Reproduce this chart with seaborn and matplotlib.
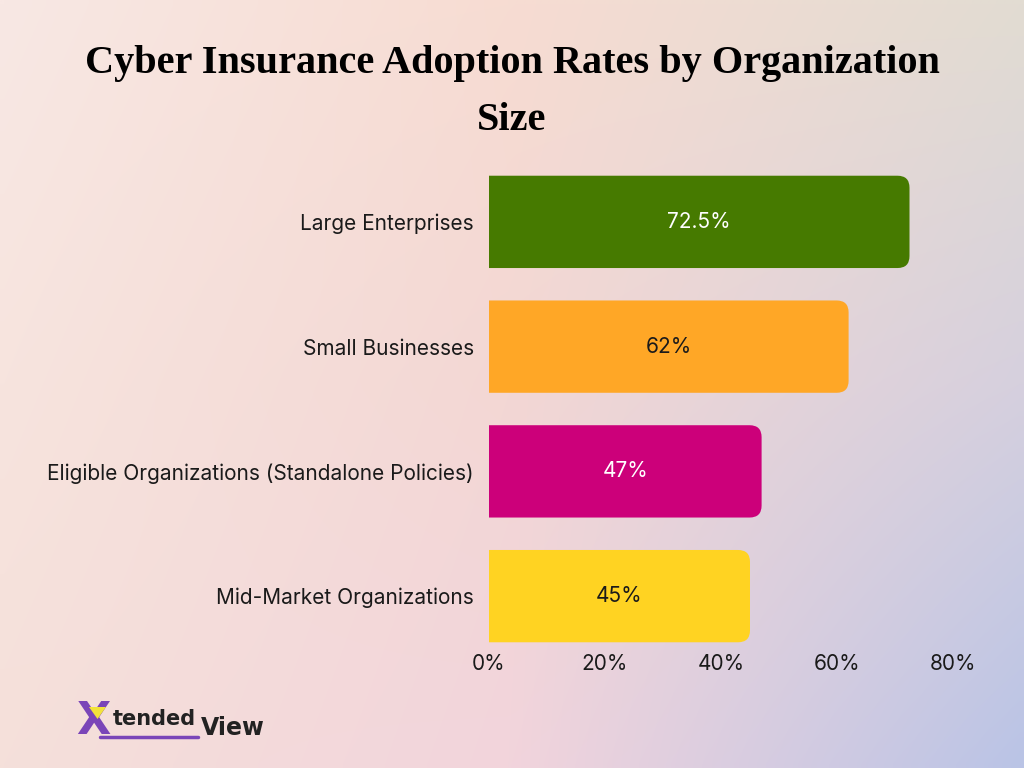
import numpy as np
import matplotlib
matplotlib.use("Agg")
import matplotlib.pyplot as plt
import seaborn as sns
from matplotlib.patches import PathPatch, Polygon
from matplotlib.path import Path
from matplotlib.lines import Line2D

# data
categories = ["Large Enterprises", "Small Businesses",
              "Eligible Organizations (Standalone Policies)", "Mid-Market Organizations"]
adoption = [72.5, 62, 47, 45]
bar_colors = ["#467A00", "#FFA726", "#CC007A", "#FFD322"]
label_colors = ["#FFFFFF", "#1A1A1A", "#FFFFFF", "#1A1A1A"]
x_ticks = [0, 20, 40, 60, 80]

sns.set_theme(style="white")
plt.rcParams["font.family"] = ["Inter", "DejaVu Sans"]

fig = plt.figure(figsize=(10.24, 7.68), dpi=100)

# soft gradient background (3x3 control colours, bilinear blend)
ctrl = np.array([
    [[248, 232, 228], [247, 220, 210], [226, 220, 210]],
    [[247, 228, 222], [243, 215, 212], [214, 208, 222]],
    [[245, 224, 218], [242, 212, 220], [186, 196, 230]],
], dtype=float) / 255
H, W = 96, 128
yy = np.linspace(0, 2, H)
xx = np.linspace(0, 2, W)
rows = np.stack([np.stack([np.interp(xx, [0, 1, 2], ctrl[r, :, c]) for c in range(3)], -1)
                 for r in range(3)])
grad = np.stack([np.stack([np.interp(yy, [0, 1, 2], rows[:, j, c]) for j in range(W)], 1)
                 for c in range(3)], -1)
bg = fig.add_axes([0, 0, 1, 1], zorder=-10)
bg.imshow(grad, aspect="auto", extent=[0, 1, 0, 1], interpolation="bilinear")
bg.axis("off")

ax = fig.add_axes([489 / 1024, 1 - 658.5 / 768, 464 / 1024, 499 / 768])
ax.set_facecolor("none")
sns.barplot(x=adoption, y=categories, hue=categories, palette=bar_colors,
            legend=False, orient="h", width=0.74, saturation=1, ax=ax)
ax.set_xlim(0, 80)
ax.set_ylim(3.5, -0.5)

# swap each bar for one with rounded right-hand corners
rx = 12 / (464 / 80)
ry = 12 / (499 / 4)
for patch in list(ax.patches):
    x0, y0 = patch.get_x(), patch.get_y()
    x1, y1 = x0 + patch.get_width(), y0 + patch.get_height()
    verts = [(x0, y0), (x1 - rx, y0), (x1, y0), (x1, y0 + ry),
             (x1, y1 - ry), (x1, y1), (x1 - rx, y1), (x0, y1), (x0, y0)]
    codes = [Path.MOVETO, Path.LINETO, Path.CURVE3, Path.CURVE3,
             Path.LINETO, Path.CURVE3, Path.CURVE3, Path.LINETO, Path.CLOSEPOLY]
    ax.add_patch(PathPatch(Path(verts, codes), fc=patch.get_facecolor(),
                           ec="none", zorder=2))
    patch.set_visible(False)

for i, v in enumerate(adoption):
    ax.text(v / 2, i, f"{v:g}%", ha="center", va="center",
            fontsize=15, color=label_colors[i], zorder=3)

ax.set_xticks(x_ticks)
ax.set_xticklabels([f"{t}%" for t in x_ticks])
ax.tick_params(axis="x", length=0, pad=-3, labelsize=15, labelcolor="#1A1A1A")
ax.tick_params(axis="y", length=0, pad=11, labelsize=15, labelcolor="#1A1A1A")
ax.set_xlabel("")
ax.set_ylabel("")
sns.despine(ax=ax, left=True, bottom=True)

title_font = ["Liberation Serif", "DejaVu Serif"]
fig.text(0.5, 1 - 64 / 768, "Cyber Insurance Adoption Rates by Organization",
         ha="center", va="center", fontsize=29, fontweight="bold",
         family=title_font, color="black")
fig.text(0.5, 1 - 121 / 768, "Size", ha="center", va="center", fontsize=29,
         fontweight="bold", family=title_font, color="black")

# logo
fig.text(76 / 1024, 1 - 722 / 768, "X", ha="left", va="center", fontsize=32,
         fontweight="bold", color="#7A45B8", family=["DejaVu Sans"])
fig.add_artist(Polygon([(89 / 1024, 1 - 707 / 768), (106 / 1024, 1 - 707 / 768),
                        (97.5 / 1024, 1 - 719 / 768)], closed=True,
                       fc="#F2E33A", ec="none", transform=fig.transFigure, zorder=5))
fig.text(113 / 1024, 1 - 719 / 768, "tended", ha="left", va="center", fontsize=15,
         fontweight="bold", color="#222222", family=["DejaVu Sans"])
fig.text(201 / 1024, 1 - 728 / 768, "View", ha="left", va="center", fontsize=17,
         fontweight="bold", color="#222222", family=["DejaVu Sans"])
fig.add_artist(Line2D([100 / 1024, 198 / 1024], [1 - 737 / 768, 1 - 737 / 768],
                      color="#7A45B8", lw=2.5))

fig.savefig("out.png", dpi=100)
